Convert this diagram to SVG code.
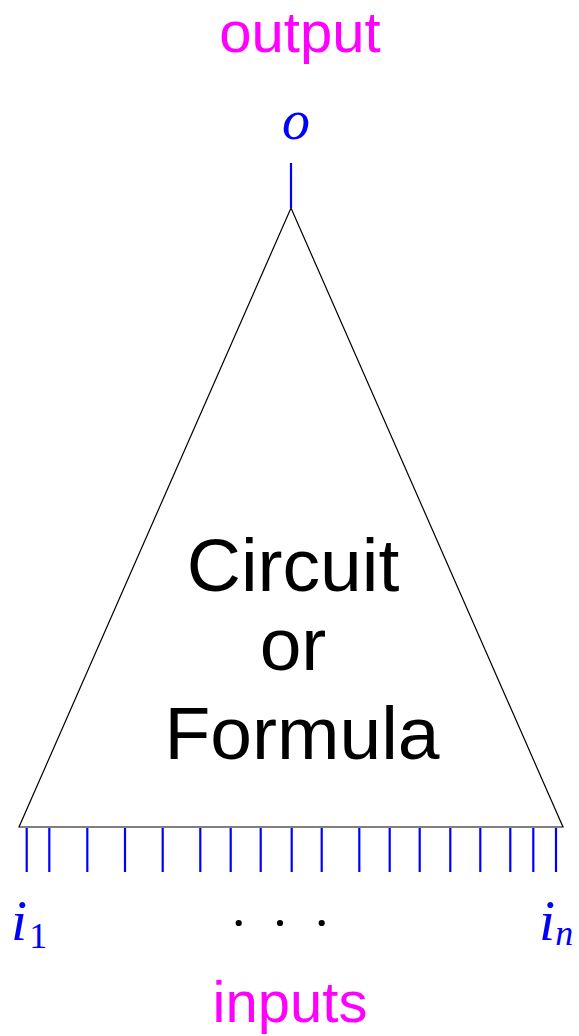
<svg xmlns="http://www.w3.org/2000/svg" width="579" height="1036" viewBox="0 0 579 1036">
<style>
.lbl{font-family:"Liberation Sans",Arial,sans-serif;fill:#ff00ff;font-size:58px;text-anchor:middle}
.var{font-family:"Liberation Serif","Times New Roman",serif;font-style:italic;fill:#0000ff}
.sub{font-family:"Liberation Serif","Times New Roman",serif;fill:#0000ff}
.body{font-family:"Liberation Sans",Arial,sans-serif;fill:#000;font-size:75px;text-anchor:middle}
.wire{stroke:#0000ff;stroke-width:2.2;fill:none}
</style>
<rect width="579" height="1036" fill="#fff"/>
<g id="output-label"><text class="lbl" x="300" y="52" font-size="57">output</text></g>
<g id="output-var"><text class="var" x="296" y="139" font-size="56" text-anchor="middle">o</text></g>
<g id="circuit">
<polygon points="291,208 19,827 563,827" fill="none" stroke="#000" stroke-width="1.2"/>
<text class="body" x="293" y="591">Circuit</text>
<text class="body" x="293" y="670">or</text>
<text class="body" x="302" y="759">Formula</text>
</g>
<g id="connectors">
<line class="wire" x1="291" y1="163" x2="291" y2="208"/>
<line class="wire" x1="26.7" y1="828" x2="26.7" y2="872"/>
<line class="wire" x1="49.3" y1="828" x2="49.3" y2="872"/>
<line class="wire" x1="87.3" y1="828" x2="87.3" y2="872"/>
<line class="wire" x1="125" y1="828" x2="125" y2="872"/>
<line class="wire" x1="162.7" y1="828" x2="162.7" y2="872"/>
<line class="wire" x1="200.3" y1="828" x2="200.3" y2="872"/>
<line class="wire" x1="230.7" y1="828" x2="230.7" y2="872"/>
<line class="wire" x1="260.7" y1="828" x2="260.7" y2="872"/>
<line class="wire" x1="291.7" y1="828" x2="291.7" y2="872"/>
<line class="wire" x1="321.7" y1="828" x2="321.7" y2="872"/>
<line class="wire" x1="359.3" y1="828" x2="359.3" y2="872"/>
<line class="wire" x1="389.7" y1="828" x2="389.7" y2="872"/>
<line class="wire" x1="419.7" y1="828" x2="419.7" y2="872"/>
<line class="wire" x1="450.3" y1="828" x2="450.3" y2="872"/>
<line class="wire" x1="480.3" y1="828" x2="480.3" y2="872"/>
<line class="wire" x1="510.3" y1="828" x2="510.3" y2="872"/>
<line class="wire" x1="533.3" y1="828" x2="533.3" y2="872"/>
<line class="wire" x1="556" y1="828" x2="556" y2="872"/>
</g>
<g id="input-first"><text x="11" y="940"><tspan class="var" font-size="58">i</tspan><tspan class="sub" font-size="36" dx="2" dy="8">1</tspan></text></g>
<g id="ellipsis">
<circle cx="238.7" cy="923" r="3.1" fill="#000"/>
<circle cx="280" cy="923" r="3.1" fill="#000"/>
<circle cx="321.7" cy="923" r="3.1" fill="#000"/>
</g>
<g id="input-last"><text x="539" y="940"><tspan class="var" font-size="58">i</tspan><tspan class="var" font-size="36" dy="5">n</tspan></text></g>
<g id="inputs-label"><text class="lbl" x="290" y="1022">inputs</text></g>
</svg>
